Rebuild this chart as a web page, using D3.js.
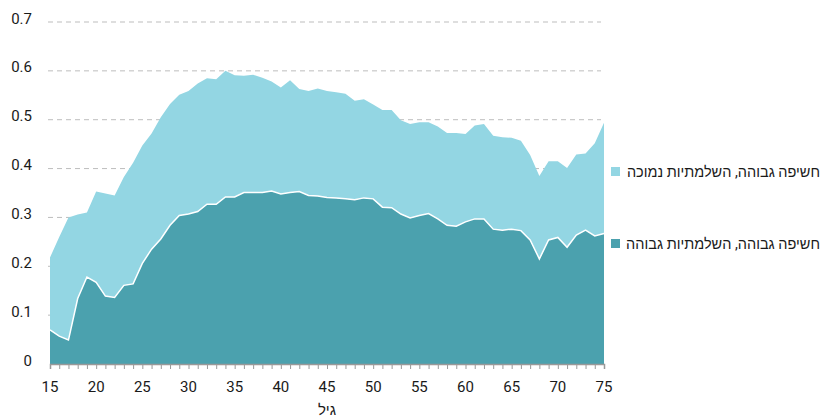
<!DOCTYPE html>
<html>
<head>
<meta charset="utf-8">
<script src="https://cdn.jsdelivr.net/npm/d3@7/dist/d3.min.js"></script>
<style>
  body { margin: 0; background: #fff; }
  text { font-family: Roboto, "Noto Sans", sans-serif; }
</style>
</head>
<body>
<svg id="chart" width="835" height="418"></svg>
<script>
// ages 15..75
var ages = d3.range(15, 76);

// high exposure, high complementarity (bottom layer)
var highComp = [
  0.070, 0.057, 0.049, 0.134, 0.178, 0.167, 0.139, 0.136, 0.161, 0.164,
  0.206, 0.235, 0.256, 0.284, 0.304, 0.307, 0.312, 0.327, 0.327, 0.342,
  0.342, 0.351, 0.351, 0.351, 0.354, 0.348, 0.351, 0.353, 0.345, 0.344,
  0.341, 0.340, 0.338, 0.336, 0.340, 0.338, 0.321, 0.320, 0.307, 0.299,
  0.304, 0.308, 0.297, 0.284, 0.282, 0.291, 0.297, 0.297, 0.276, 0.274,
  0.276, 0.273, 0.254, 0.215, 0.254, 0.259, 0.239, 0.264, 0.274, 0.262,
  0.267
];

// high exposure, low complementarity (stacked on top)
var lowComp = [
  0.148, 0.203, 0.251, 0.172, 0.132, 0.186, 0.210, 0.209, 0.222, 0.248,
  0.241, 0.237, 0.249, 0.248, 0.247, 0.252, 0.262, 0.258, 0.256, 0.258,
  0.249, 0.239, 0.241, 0.235, 0.224, 0.218, 0.230, 0.210, 0.214, 0.220,
  0.218, 0.216, 0.215, 0.203, 0.202, 0.193, 0.199, 0.200, 0.192, 0.192,
  0.191, 0.187, 0.189, 0.189, 0.191, 0.180, 0.191, 0.194, 0.191, 0.190,
  0.187, 0.184, 0.174, 0.170, 0.161, 0.156, 0.162, 0.165, 0.157, 0.190,
  0.227
];

var seriesNames = ["חשיפה גבוהה, השלמתיות גבוהה", "חשיפה גבוהה, השלמתיות נמוכה"];
var colors = ["#4ba1ae", "#93d6e3"];
var yTicks = [0, 0.1, 0.2, 0.3, 0.4, 0.5, 0.6, 0.7];
var xTicks = [15, 20, 25, 30, 35, 40, 45, 50, 55, 60, 65, 70, 75];

var svg = d3.select("#chart");
var m = { left: 50, right: 604, top: 22, bottom: 364 };

var x = d3.scaleLinear().domain([15, 75]).range([m.left, m.right]);
var y = d3.scaleLinear().domain([0, 0.7]).range([m.bottom, m.top]);

var rows = ages.map(function(a, i) {
  return { age: a, high: highComp[i], low: lowComp[i] };
});
var layers = d3.stack().keys(["high", "low"])(rows);

// gridlines (behind areas)
svg.append("g")
  .selectAll("line")
  .data(yTicks.filter(function(d) { return d > 0; }))
  .enter().append("line")
  .attr("x1", m.left - 2)
  .attr("x2", m.right - 3)
  .attr("y1", function(d) { return y(d); })
  .attr("y2", function(d) { return y(d); })
  .attr("stroke", "#bdbdbd")
  .attr("stroke-width", 1)
  .attr("stroke-dasharray", "5,4");

var area = d3.area()
  .x(function(d) { return x(d.data.age); })
  .y0(function(d) { return y(d[0]); })
  .y1(function(d) { return y(d[1]); });

svg.append("g")
  .selectAll("path")
  .data(layers)
  .enter().append("path")
  .attr("d", area)
  .attr("fill", function(d, i) { return colors[i]; });

// white boundary between the layers
var line = d3.line()
  .x(function(d) { return x(d.data.age); })
  .y(function(d) { return y(d[1]); });
svg.append("path")
  .datum(layers[0])
  .attr("d", line)
  .attr("fill", "none")
  .attr("stroke", "#fff")
  .attr("stroke-width", 1.5);

// y labels
svg.append("g")
  .selectAll("text")
  .data(yTicks)
  .enter().append("text")
  .attr("x", 32)
  .attr("y", function(d) { return y(d); })
  .attr("dy", "0.1em")
  .attr("text-anchor", "end")
  .style("font-size", "15px")
  .attr("fill", "#1a1a1a")
  .text(function(d) { return d === 0 ? "0" : d3.format(".1f")(d); });

// x axis with yearly minor ticks
var xAxis = d3.axisBottom(x)
  .tickValues(ages)
  .tickSize(5)
  .tickFormat("");
var gx = svg.append("g")
  .attr("transform", "translate(0," + m.bottom + ")")
  .call(xAxis);
gx.select(".domain").attr("stroke", "#999").attr("stroke-width", 1.5);
gx.selectAll(".tick line").attr("stroke", "#999");

svg.append("g")
  .selectAll("text")
  .data(xTicks)
  .enter().append("text")
  .attr("x", function(d) { return x(d); })
  .attr("y", 392)
  .attr("text-anchor", "middle")
  .style("font-size", "15px")
  .attr("fill", "#1a1a1a")
  .text(function(d) { return d; });

svg.append("text")
  .attr("x", (m.left + m.right) / 2)
  .attr("y", 415)
  .attr("text-anchor", "middle")
  .style("font-size", "15px")
  .attr("fill", "#1a1a1a")
  .text("גיל");

// legend
var legendY = [244, 172];
var legend = svg.append("g")
  .selectAll("g")
  .data(seriesNames)
  .enter().append("g")
  .attr("transform", function(d, i) { return "translate(611," + legendY[i] + ")"; });
legend.append("rect")
  .attr("x", 0).attr("y", -5)
  .attr("width", 9).attr("height", 9)
  .attr("fill", function(d, i) { return colors[i]; });
legend.append("text")
  .attr("x", 209)
  .attr("y", 0)
  .attr("dy", "0.35em")
  .attr("text-anchor", "end")
  .style("font-size", "14.5px")
  .attr("fill", "#1a1a1a")
  .text(function(d) { return d; });
</script>
</body>
</html>
